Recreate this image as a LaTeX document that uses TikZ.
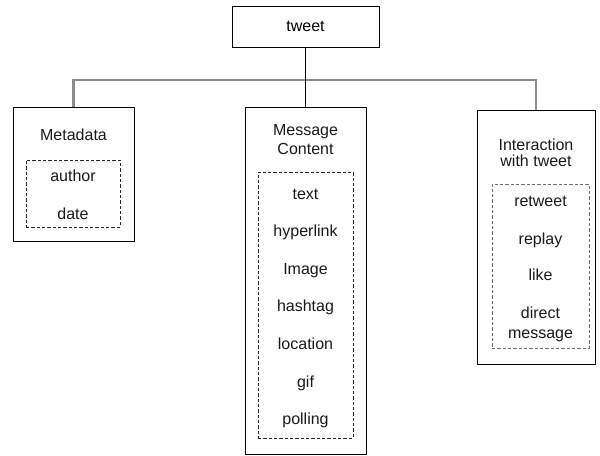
\documentclass[tikz,border=0pt]{standalone}
\usepackage{fontspec}
\setmainfont{Liberation Sans}
\usepackage{tikz}
\usetikzlibrary{positioning}
\definecolor{busgray}{RGB}{140,140,140}
\definecolor{dashgray}{RGB}{110,110,110}
\tikzstyle{box} = [rectangle, draw=black, line width=0.6pt, inner sep=0pt]
\tikzstyle{group} = [rectangle, draw=black!85, line width=0.6pt, dash pattern=on 2.4pt off 1.6pt, inner sep=0pt]
\tikzstyle{lbl} = [anchor=base, inner sep=0pt, text=black!90]
\tikzstyle{bus} = [draw=busgray, line width=1.6pt]

\begin{document}
\begin{tikzpicture}[x=0.75pt, y=-0.75pt, font=\fontsize{12}{14}\selectfont]
\useasboundingbox (0,0) rectangle (600,455);
% boxes
\node [box, minimum width=110.25pt, minimum height=30.75pt] (Tweet) at (305.5,26.5) {tweet};
\node [box, minimum width=90.75pt, minimum height=100.5pt] (Meta) at (73.5,174) {};
\node [box, minimum width=90.75pt, minimum height=260.25pt] (Msg) at (305.5,280.5) {};
\node [box, minimum width=88.5pt, minimum height=190.5pt] (Inter) at (536,237) {};
\node [group, minimum width=70.5pt, minimum height=50.25pt] (MetaG) at (73,193.5) {};
\node [group, minimum width=71.25pt, minimum height=199.5pt] (MsgG) at (305.5,305) {};
\node [group, draw=dashgray, minimum width=72.75pt, minimum height=123pt] (InterG) at (540.5,266) {};
% titles
\node [lbl] (MetaT) at (73.5,140) {Metadata};
\node [lbl] (MsgT1) at (305.5,135) {Message};
\node [lbl] (MsgT2) at (305.5,154) {Content};
\node [lbl] (InterT1) at (536,150) {Interaction};
\node [lbl] (InterT2) at (536,166) {with tweet};
% metadata
\node [lbl] (author) at (73,181.7) {author};
\node [lbl] (date) at (73,219) {date};
% message content
\node [lbl] (text) at (305.5,199) {text};
\node [lbl] (hyperlink) at (305.5,236.6) {hyperlink};
\node [lbl] (image) at (305.5,274.2) {Image};
\node [lbl] (hashtag) at (305.5,311.8) {hashtag};
\node [lbl] (location) at (305.5,349.4) {location};
\node [lbl] (gif) at (305.5,387) {gif};
\node [lbl] (polling) at (305.5,424.6) {polling};
% interaction
\node [lbl] (retweet) at (540.5,206.7) {retweet};
\node [lbl] (replay) at (540.5,244) {replay};
\node [lbl] (like) at (540.5,280.7) {like};
\node [lbl] (direct) at (540.5,318.3) {direct};
\node [lbl] (message) at (540.5,338.3) {message};
% connectors
\coordinate (Bus) at (305.5,80);
\draw [bus] (Meta.north) |- (Bus) -| (Inter.north);
\draw [line width=0.6pt] (Tweet.south) -- (Msg.north);
\end{tikzpicture}
\end{document}
